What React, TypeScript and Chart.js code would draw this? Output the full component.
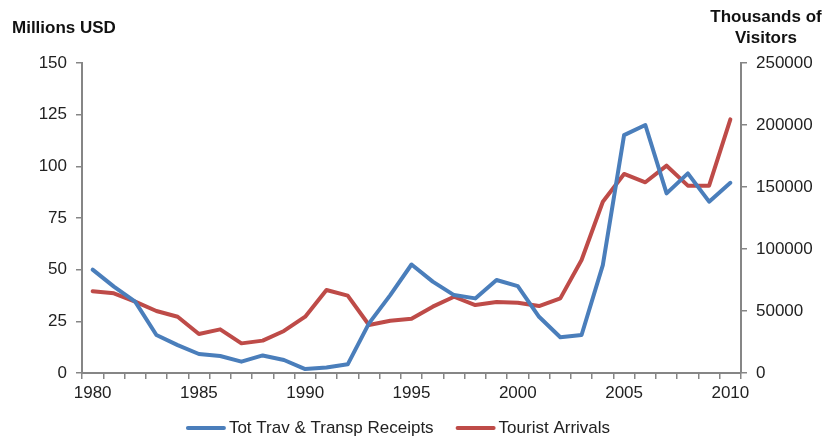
import React, { useEffect, useRef } from "react";
import { Chart, registerables } from "chart.js";

Chart.register(...registerables);

const years: string[] = [];
for (let y = 1980; y <= 2010; y++) years.push(String(y));

const receipts = [50, 41.8, 34.5, 18.4, 13.5, 9.2, 8.2, 5.5, 8.5, 6.3, 1.9, 2.7, 4.2, 24, 37.7, 52.5, 44.2, 37.7, 36.1, 45, 42, 27.2, 17.3, 18.4, 52.2, 115.1, 120, 86.9, 96.6, 82.9, 92];
const arrivals = [66000, 64300, 57500, 50000, 45400, 31500, 35200, 23900, 26100, 33900, 45400, 66900, 62400, 38700, 42200, 43800, 53500, 61500, 54800, 57300, 56700, 54000, 60200, 91100, 138100, 160500, 153800, 167200, 151100, 151100, 204600];

const leftTitle = "Millions USD";
const rightTitle = ["Thousands of", "Visitors"];
const seriesNames = ["Tot Trav & Transp Receipts", "Tourist Arrivals"];

const FONT = "'Liberation Sans', Arial, sans-serif";
const AXIS = "#868686";
const TEXT = "#222222";

const titlePlugin = {
  id: "titles",
  afterDraw(chart: any) {
    const ctx = chart.ctx;
    ctx.save();
    ctx.fillStyle = "#111";
    ctx.font = `bold 17px ${FONT}`;
    ctx.textBaseline = "middle";
    ctx.textAlign = "left";
    ctx.fillText(leftTitle, 12, 28);
    ctx.textAlign = "center";
    ctx.fillText(rightTitle[0], 766, 17);
    ctx.fillText(rightTitle[1], 766, 38);

    // legend
    ctx.font = `17px ${FONT}`;
    ctx.textAlign = "left";
    const lineW = 40, gapText = 3, gapItem = 22;
    const ds = chart.data.datasets;
    const widths = ds.map((d: any) => lineW + gapText + ctx.measureText(d.label).width);
    const total = widths.reduce((a: number, b: number) => a + b, 0) + gapItem * (ds.length - 1);
    let x = 398 - total / 2;
    const y = 428;
    ds.forEach((d: any, i: number) => {
      ctx.strokeStyle = d.borderColor;
      ctx.lineWidth = 4;
      ctx.lineCap = "round";
      ctx.beginPath();
      ctx.moveTo(x + 2, y);
      ctx.lineTo(x + lineW - 2, y);
      ctx.stroke();
      ctx.fillStyle = TEXT;
      ctx.fillText(d.label, x + lineW + gapText, y);
      x += widths[i] + gapItem;
    });
    ctx.restore();
  },
};

export default function App() {
  const ref = useRef<HTMLCanvasElement>(null);
  useEffect(() => {
    if (!ref.current) return;
    const chart = new Chart(ref.current, {
      type: "line",
      data: {
        labels: years,
        datasets: [
          {
            label: seriesNames[0],
            data: receipts,
            borderColor: "#4A7EBB",
            backgroundColor: "#4A7EBB",
            borderWidth: 4,
            borderJoinStyle: "round",
            borderCapStyle: "round",
            pointRadius: 0,
            tension: 0,
            yAxisID: "y",
          },
          {
            label: seriesNames[1],
            data: arrivals,
            borderColor: "#BE4B48",
            backgroundColor: "#BE4B48",
            borderWidth: 4,
            borderJoinStyle: "round",
            borderCapStyle: "round",
            pointRadius: 0,
            tension: 0,
            yAxisID: "y1",
          },
        ],
      },
      options: {
        responsive: false,
        animation: false,
        layout: { padding: { top: 63, left: 0, right: 0, bottom: 38 } },
        plugins: {
          legend: { display: false },
          tooltip: { enabled: false },
        },
        scales: {
          x: {
            type: "category",
            offset: true,
            grid: { offset: true, drawOnChartArea: false, drawTicks: true, tickLength: 6, color: AXIS, lineWidth: 1.5 },
            border: { color: AXIS, width: 2 },
            ticks: {
              autoSkip: false,
              maxRotation: 0,
              color: TEXT,
              font: { family: FONT, size: 17 },
              padding: 4,
              callback: (v: any, i: number) => (Number(years[i]) % 5 === 0 ? years[i] : ""),
            },
            afterFit: (s: any) => { s.height = 30; },
          },
          y: {
            position: "left",
            min: 0,
            max: 150,
            grid: { drawOnChartArea: false, drawTicks: true, tickLength: 6, color: AXIS, lineWidth: 1.5 },
            border: { color: AXIS, width: 2 },
            ticks: { stepSize: 25, color: TEXT, font: { family: FONT, size: 17 }, padding: 9 },
            afterFit: (s: any) => { s.width = 82; },
          },
          y1: {
            position: "right",
            min: 0,
            max: 250000,
            grid: { drawOnChartArea: false, drawTicks: true, tickLength: 6, color: AXIS, lineWidth: 1.5 },
            border: { color: AXIS, width: 2 },
            ticks: {
              stepSize: 50000,
              color: TEXT,
              font: { family: FONT, size: 17 },
              padding: 9,
              callback: (v: any) => String(v),
            },
            afterFit: (s: any) => { s.width = 83; },
          },
        },
      },
      plugins: [titlePlugin],
    });
    return () => chart.destroy();
  }, []);
  return (
    <div style={{ position: "absolute", left: 0, top: 0, width: 824, height: 441, background: "#fff" }}>
      <canvas ref={ref} width={824} height={441} />
    </div>
  );
}
